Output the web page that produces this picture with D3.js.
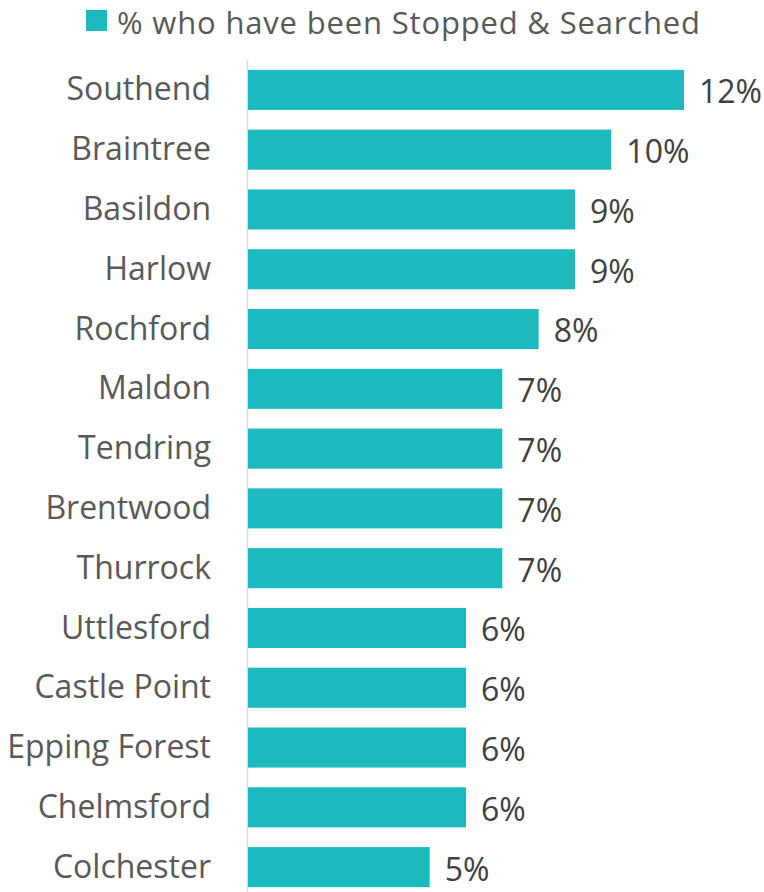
<!DOCTYPE html>
<html><head><meta charset="utf-8">
<script src="https://cdn.jsdelivr.net/npm/d3@7"></script>
<style>body{margin:0;background:#fff}svg{display:block}</style>
</head><body>
<svg id="c" width="764" height="892"></svg>
<script>
const categories = ["Southend","Braintree","Basildon","Harlow","Rochford","Maldon","Tendring","Brentwood","Thurrock","Uttlesford","Castle Point","Epping Forest","Chelmsford","Colchester"];
const values = [12,10,9,9,8,7,7,7,7,6,6,6,6,5];
const seriesName = "% who have been Stopped & Searched";

const svg = d3.select("#c");
const font = "'Open Sans', sans-serif";
const color = "#1CB9BE";
const x0 = 248;
const x = d3.scaleLinear().domain([0,12]).range([x0, 684]);
const y = d3.scaleBand().domain(categories).range([60, 897]).paddingInner(0.33).paddingOuter(0.165);

svg.append("line").attr("x1",247.5).attr("x2",247.5).attr("y1",60).attr("y2",892)
  .attr("stroke","#d9d9d9").attr("stroke-width",1.5);

svg.selectAll("rect.bar").data(values).join("rect").attr("class","bar")
  .attr("x", x0).attr("y",(d,i)=>y(categories[i]))
  .attr("width", d=>x(d)-x0).attr("height", y.bandwidth()).attr("fill", color);

svg.selectAll("text.cat").data(categories).join("text").attr("class","cat")
  .attr("x",211).attr("y",d=>y(d)+y.bandwidth()/2).attr("dy","0.33em")
  .attr("text-anchor","end").attr("font-family",font).attr("font-size",32)
  .attr("fill","#595959").text(d=>d);

svg.selectAll("text.val").data(values).join("text").attr("class","val")
  .attr("x",d=>x(d)+15).attr("y",(d,i)=>y(categories[i])+y.bandwidth()/2).attr("dy","0.42em")
  .attr("font-family",font).attr("font-size",32).attr("fill","#404040").text(d=>d+"%");

const lg = svg.append("g");
lg.append("rect").attr("x",86).attr("y",10).attr("width",21).attr("height",21).attr("fill",color);
lg.append("text").attr("x",117).attr("y",34).attr("font-family",font).attr("font-size",31)
  .attr("textLength",583).attr("lengthAdjust","spacing")
  .attr("fill","#595959").text(seriesName);
</script>
</body></html>
